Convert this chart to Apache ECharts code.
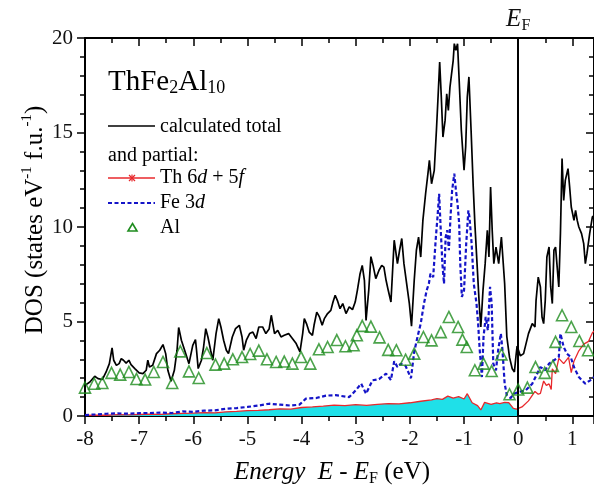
<!DOCTYPE html>
<html><head><meta charset="utf-8">
<script src="https://cdn.jsdelivr.net/npm/echarts@6/dist/echarts.min.js"></script>
<style>html,body{margin:0;padding:0;background:#fff}#c{width:594px;height:493px}</style>
</head><body><div id="c"></div>
<script>
// Energy E - E_F (eV) and DOS (states / eV f.u.)
const totalE = [-8.00,-7.91,-7.82,-7.76,-7.68,-7.61,-7.55,-7.50,-7.47,-7.42,-7.37,-7.33,-7.29,-7.24,-7.19,-7.15,-7.08,-7.00,-6.93,-6.87,-6.84,-6.81,-6.75,-6.68,-6.62,-6.56,-6.51,-6.47,-6.41,-6.35,-6.30,-6.27,-6.22,-6.16,-6.08,-6.01,-5.96,-5.94,-5.91,-5.85,-5.81,-5.77,-5.73,-5.68,-5.64,-5.58,-5.53,-5.49,-5.44,-5.39,-5.35,-5.28,-5.22,-5.15,-5.10,-5.07,-5.02,-4.96,-4.90,-4.84,-4.79,-4.72,-4.66,-4.60,-4.56,-4.50,-4.44,-4.38,-4.32,-4.24,-4.17,-4.10,-4.03,-3.98,-3.95,-3.91,-3.86,-3.80,-3.77,-3.72,-3.67,-3.62,-3.58,-3.52,-3.46,-3.42,-3.38,-3.34,-3.29,-3.24,-3.18,-3.12,-3.06,-3.01,-2.97,-2.92,-2.88,-2.84,-2.81,-2.76,-2.72,-2.68,-2.63,-2.57,-2.52,-2.48,-2.44,-2.40,-2.35,-2.32,-2.29,-2.23,-2.19,-2.15,-2.11,-2.06,-2.01,-1.97,-1.92,-1.88,-1.84,-1.80,-1.76,-1.71,-1.66,-1.64,-1.60,-1.55,-1.51,-1.48,-1.45,-1.42,-1.39,-1.35,-1.32,-1.29,-1.26,-1.23,-1.20,-1.18,-1.15,-1.12,-1.09,-1.05,-1.00,-0.97,-0.94,-0.91,-0.87,-0.83,-0.80,-0.76,-0.72,-0.69,-0.65,-0.61,-0.57,-0.54,-0.51,-0.48,-0.45,-0.41,-0.36,-0.31,-0.28,-0.25,-0.21,-0.16,-0.11,-0.07,-0.04,-0.02,0.04,0.10,0.19,0.26,0.31,0.33,0.37,0.41,0.44,0.47,0.50,0.53,0.57,0.60,0.63,0.66,0.69,0.72,0.75,0.78,0.81,0.84,0.87,0.92,0.95,0.98,1.03,1.06,1.09,1.12,1.17,1.21,1.24,1.27,1.32,1.37,1.40];
const totalDOS = [1.62,1.80,2.10,1.98,1.93,2.33,2.77,3.60,2.95,2.68,2.77,3.04,2.95,2.80,2.95,2.72,2.51,2.28,2.24,2.42,2.95,2.59,2.68,3.30,3.48,3.78,3.30,2.42,1.84,2.42,3.48,4.68,4.01,3.48,2.77,3.74,4.04,3.48,2.51,2.95,3.65,4.62,4.18,3.48,2.95,4.36,5.15,4.71,4.01,3.48,3.30,4.18,4.62,4.80,4.18,3.48,4.01,4.36,4.44,4.10,4.71,4.71,4.36,4.60,5.33,4.36,4.53,4.18,4.27,4.36,4.10,3.83,3.39,4.36,5.15,4.89,4.44,4.27,4.80,5.50,5.24,4.80,5.15,5.42,5.59,6.03,6.39,6.12,5.68,5.95,5.42,5.77,5.63,6.03,6.65,7.53,7.97,7.18,5.06,6.65,8.43,7.97,7.27,7.71,7.97,7.88,7.18,6.65,6.03,5.95,9.30,8.06,8.77,9.39,8.06,7.00,5.95,4.75,7.18,8.77,9.47,8.41,10.35,11.76,13.00,13.53,12.29,13.00,15.12,16.88,18.73,16.88,14.76,15.64,17.05,16.17,17.40,18.12,18.82,19.70,19.35,19.70,17.76,15.12,13.00,14.23,16.88,17.94,15.12,12.12,10.18,8.06,5.95,4.71,6.65,8.06,9.83,8.41,12.12,9.83,8.06,8.94,8.06,9.47,8.24,7.00,4.20,3.10,2.50,2.33,3.20,3.70,3.18,3.30,4.36,4.89,4.71,6.12,7.35,6.83,5.24,4.89,6.12,8.41,8.94,6.83,5.95,8.77,8.94,7.88,6.83,9.65,13.62,11.41,12.47,13.09,12.12,11.06,10.35,10.88,10.35,10.00,9.65,9.12,8.06,8.59,9.65,10.53,10.60];

const thE = [-8.0,-7.8,-7.6,-7.4,-7.2,-7.0,-6.8,-6.6,-6.4,-6.2,-6.0,-5.8,-5.6,-5.4,-5.2,-5.0,-4.8,-4.6,-4.4,-4.2,-4.0,-3.8,-3.6,-3.4,-3.2,-3.0,-2.8,-2.6,-2.4,-2.2,-2.0,-1.8,-1.6,-1.5,-1.4,-1.3,-1.2,-1.1,-1.0,-0.94,-0.85,-0.75,-0.69,-0.62,-0.5,-0.4,-0.34,-0.25,-0.17,-0.09,-0.03,0.0,0.07,0.19,0.31,0.37,0.41,0.47,0.52,0.57,0.61,0.63,0.69,0.75,0.84,0.93,0.98,1.03,1.12,1.21,1.30,1.37,1.40];
const thDOS = [0.03,0.05,0.04,0.07,0.06,0.08,0.10,0.09,0.12,0.14,0.15,0.18,0.17,0.22,0.24,0.28,0.30,0.33,0.38,0.36,0.45,0.48,0.52,0.58,0.55,0.60,0.56,0.62,0.66,0.64,0.70,0.78,0.85,0.92,0.88,1.05,0.95,1.02,0.90,1.18,0.70,0.55,0.32,0.72,0.62,0.70,0.65,0.72,0.70,0.40,0.36,0.45,0.48,0.80,1.30,1.15,1.20,1.85,1.62,1.70,1.40,2.50,2.24,3.05,2.77,3.10,2.30,2.90,3.45,3.80,3.95,4.40,4.50];

const feE = [-8.0,-7.8,-7.6,-7.4,-7.2,-7.0,-6.8,-6.6,-6.4,-6.2,-6.0,-5.8,-5.6,-5.4,-5.2,-5.0,-4.8,-4.6,-4.4,-4.2,-4.04,-3.92,-3.73,-3.55,-3.37,-3.12,-3.0,-2.90,-2.81,-2.69,-2.57,-2.44,-2.35,-2.29,-2.23,-2.17,-2.08,-1.98,-1.92,-1.86,-1.80,-1.74,-1.69,-1.65,-1.62,-1.57,-1.52,-1.49,-1.46,-1.43,-1.40,-1.37,-1.34,-1.31,-1.28,-1.25,-1.22,-1.18,-1.15,-1.12,-1.09,-1.07,-1.04,-1.00,-0.96,-0.92,-0.90,-0.86,-0.82,-0.77,-0.74,-0.71,-0.67,-0.64,-0.60,-0.56,-0.52,-0.49,-0.46,-0.41,-0.37,-0.32,-0.29,-0.25,-0.21,-0.14,-0.08,0.01,0.14,0.26,0.35,0.41,0.50,0.57,0.66,0.75,0.78,0.84,0.90,0.97,1.03,1.12,1.24,1.33,1.40];
const feDOS = [0.05,0.08,0.12,0.14,0.12,0.15,0.16,0.18,0.16,0.24,0.22,0.28,0.30,0.38,0.42,0.48,0.55,0.65,0.60,0.55,0.60,0.92,0.95,1.08,1.10,1.00,1.36,1.71,1.18,1.89,1.95,2.24,1.90,2.90,2.59,2.77,2.65,2.00,3.40,4.18,4.89,5.95,6.65,7.00,7.53,7.35,9.47,10.53,11.76,9.83,8.06,7.00,9.47,9.83,8.77,10.53,11.94,12.82,11.94,11.23,10.18,8.06,6.30,6.65,9.12,10.88,10.53,9.12,7.00,5.95,4.89,3.48,2.06,4.18,5.24,4.53,6.83,5.95,2.77,2.42,3.48,4.36,3.48,1.71,1.10,0.95,1.18,1.27,1.36,1.71,2.24,2.59,2.42,2.77,2.95,3.12,4.36,3.65,3.30,3.12,2.59,2.06,1.71,1.89,2.06];

const alE = [-8.00,-7.83,-7.68,-7.51,-7.35,-7.19,-7.05,-6.89,-6.73,-6.56,-6.39,-6.24,-6.08,-5.90,-5.75,-5.59,-5.43,-5.27,-5.10,-4.95,-4.79,-4.64,-4.47,-4.32,-4.17,-4.01,-3.84,-3.68,-3.52,-3.35,-3.19,-3.04,-2.98,-2.88,-2.72,-2.56,-2.40,-2.25,-2.08,-1.92,-1.75,-1.60,-1.43,-1.28,-1.11,-1.03,-0.95,-0.80,-0.64,-0.49,-0.31,-0.16,0.00,0.17,0.32,0.49,0.64,0.69,0.81,0.98,1.13,1.29];
const alDOS = [1.50,1.71,1.75,2.28,2.19,2.33,1.96,1.93,2.33,2.86,1.75,3.42,2.36,2.01,3.33,2.72,2.77,3.00,3.12,3.28,3.46,3.00,2.86,2.88,2.77,3.12,2.77,3.53,3.65,4.02,3.69,3.74,4.27,4.77,4.73,4.16,3.50,3.48,2.98,3.30,4.18,4.00,4.44,5.24,4.71,4.04,3.65,2.42,2.77,2.38,3.26,1.15,1.40,1.50,2.59,2.28,2.65,3.92,5.33,4.71,3.97,3.48];

const xTicks = {min: -8, max: 1.4, interval: 1};
const yTicks = {min: 0, max: 20, interval: 5};

const serif = 'Liberation Serif, Times New Roman, serif';
const pairs = (a, b) => a.map((v, i) => [v, b[i]]);
const thPairs = pairs(thE, thDOS);
const occupiedTh = thPairs.filter(p => p[0] <= 0);

const black = '#000', red = '#e8282c', blue = '#1414c8', green = '#1e8c1e', cyan = '#1fe0e8';

function xAxisCfg(pos, inside, labels) {
  return {
    type: 'value', position: pos, min: xTicks.min, max: xTicks.max, interval: xTicks.interval,
    axisLine: {show: true, onZero: false, lineStyle: {color: black, width: 2}},
    axisTick: {show: true, inside: inside, length: 8, lineStyle: {color: black, width: 1.5}},
    minorTick: {show: true, splitNumber: 2, length: 5, lineStyle: {color: black, width: 1.5}},
    splitLine: {show: false}, minorSplitLine: {show: false},
    axisLabel: {show: labels, showMaxLabel: false, fontFamily: serif, fontSize: 21, color: '#111', margin: 13,
      formatter: v => (Math.abs(v - Math.round(v)) < 1e-9 ? String(Math.round(v)) : '')}
  };
}
function yAxisCfg(pos, inside, labels) {
  return {
    type: 'value', position: pos, min: yTicks.min, max: yTicks.max, interval: yTicks.interval,
    axisLine: {show: true, onZero: false, lineStyle: {color: black, width: 2}},
    axisTick: {show: true, inside: inside, length: 8, lineStyle: {color: black, width: 1.5}},
    minorTick: {show: true, splitNumber: 5, length: 5, lineStyle: {color: black, width: 1.5}},
    splitLine: {show: false}, minorSplitLine: {show: false},
    axisLabel: {show: labels, fontFamily: serif, fontSize: 21, color: '#111', margin: 12}
  };
}

const supRich = {
  n: {fontFamily: serif, fontSize: 25, color: '#111', lineHeight: 30},
  i: {fontFamily: serif, fontSize: 25, fontStyle: 'italic', color: '#111', lineHeight: 30},
  p: {fontFamily: serif, fontSize: 15, color: '#111', lineHeight: 10, verticalAlign: 'top'},
  s: {fontFamily: serif, fontSize: 16, color: '#111', lineHeight: 10, verticalAlign: 'bottom'}
};
const legRich = {
  n: {fontFamily: serif, fontSize: 20, color: '#111', lineHeight: 24},
  i: {fontFamily: serif, fontSize: 20, fontStyle: 'italic', color: '#111', lineHeight: 24}
};

const chart = echarts.init(document.getElementById('c'), null, {renderer: 'canvas'});
chart.setOption({
  animation: false,
  backgroundColor: '#fff',
  grid: {left: 85, right: -2, top: 38, bottom: 77, containLabel: false},
  xAxis: [xAxisCfg('bottom', false, true), xAxisCfg('top', true, false)],
  yAxis: [yAxisCfg('left', false, true), yAxisCfg('right', true, false)],
  series: [
    {type: 'line', name: 'Th occupied', data: occupiedTh, showSymbol: false, symbol: 'none',
     lineStyle: {width: 0}, areaStyle: {color: cyan, opacity: 1}, z: 1},
    {type: 'line', name: 'Th 6d+5f', data: thPairs, showSymbol: false, symbol: 'none',
     lineStyle: {color: red, width: 1.3}, z: 3},
    {type: 'line', name: 'Fe 3d', data: pairs(feE, feDOS), showSymbol: false, symbol: 'none',
     lineStyle: {color: blue, width: 2.2, type: [4, 2.5]}, z: 4},
    {type: 'line', name: 'total', data: pairs(totalE, totalDOS), showSymbol: false, symbol: 'none',
     lineStyle: {color: black, width: 1.7}, z: 5,
     markLine: {silent: true, symbol: 'none', animation: false,
       lineStyle: {color: black, width: 2, type: 'solid'},
       label: {show: true, position: 'end', distance: 4, formatter: '{i|E}{s|F}', rich: supRich},
       data: [{xAxis: 0}]}},
    {type: 'scatter', name: 'Al', data: pairs(alE, alDOS), symbol: 'triangle', symbolSize: 11,
     itemStyle: {color: 'rgba(255,255,255,0)', borderColor: green, borderWidth: 1.6}, z: 6}
  ],
  graphic: [
    {type: 'text', x: 35, y: 220, rotation: Math.PI / 2, z: 10,
     style: {text: '{n|DOS (states eV}{p|-1}{n| f.u.}{p|-1}{n|)}', rich: supRich, textAlign: 'center', textVerticalAlign: 'middle'}},
    {type: 'text', x: 332, y: 472, z: 10,
     style: {text: '{i|Energy}{n|  }{i|E}{n| - }{i|E}{s|F}{n| (eV)}', rich: supRich, textAlign: 'center', textVerticalAlign: 'middle'}},
    {type: 'text', x: 108, y: 82, z: 10,
     style: {text: '{n|ThFe}{s|2}{n|Al}{s|10}', textAlign: 'left', textVerticalAlign: 'middle',
       rich: {n: {fontFamily: serif, fontSize: 29, color: '#111', lineHeight: 30},
              s: {fontFamily: serif, fontSize: 18, color: '#111', lineHeight: 10, verticalAlign: 'bottom'}}}},
    {type: 'line', shape: {x1: 108, y1: 126, x2: 155, y2: 126}, style: {stroke: black, lineWidth: 1.7}, z: 10},
    {type: 'text', x: 160, y: 127, z: 10, style: {text: '{n|calculated total}', rich: legRich, textAlign: 'left', textVerticalAlign: 'middle'}},
    {type: 'text', x: 108, y: 156, z: 10, style: {text: '{n|and partial:}', rich: legRich, textAlign: 'left', textVerticalAlign: 'middle'}},
    {type: 'line', shape: {x1: 108, y1: 178, x2: 155, y2: 178}, style: {stroke: red, lineWidth: 1.5}, z: 10},
    {type: 'line', shape: {x1: 129, y1: 175, x2: 135, y2: 181}, style: {stroke: red, lineWidth: 1.2}, z: 10},
    {type: 'line', shape: {x1: 129, y1: 181, x2: 135, y2: 175}, style: {stroke: red, lineWidth: 1.2}, z: 10},
    {type: 'line', shape: {x1: 132, y1: 174.5, x2: 132, y2: 181.5}, style: {stroke: red, lineWidth: 1.2}, z: 10},
    {type: 'text', x: 160, y: 178, z: 10, style: {text: '{n|Th 6}{i|d}{n| + 5}{i|f}', rich: legRich, textAlign: 'left', textVerticalAlign: 'middle'}},
    {type: 'line', shape: {x1: 108, y1: 203, x2: 155, y2: 203}, style: {stroke: blue, lineWidth: 2, lineDash: [4, 2.5]}, z: 10},
    {type: 'text', x: 160, y: 203, z: 10, style: {text: '{n|Fe 3}{i|d}', rich: legRich, textAlign: 'left', textVerticalAlign: 'middle'}},
    {type: 'polygon', shape: {points: [[132.5, 223.5], [137, 231], [128, 231]]}, style: {fill: 'none', stroke: green, lineWidth: 1.6}, z: 10},
    {type: 'text', x: 160, y: 228, z: 10, style: {text: '{n|Al}', rich: legRich, textAlign: 'left', textVerticalAlign: 'middle'}}
  ]
});
</script>
</body></html>
